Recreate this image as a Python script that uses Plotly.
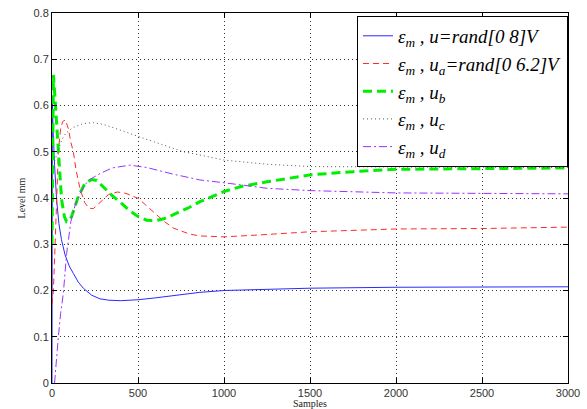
import plotly.graph_objects as go

# Blue: eps_m, u=rand[0 8]V
x_blue = [0, 2, 6, 15, 27, 40, 55, 76, 100, 124, 153, 182, 230, 279, 330, 400, 500, 600, 700, 860, 1000, 1250, 1500, 2000, 2500, 3000]
y_blue = [0.0, 0.62, 0.55, 0.47, 0.396, 0.345, 0.31, 0.277, 0.253, 0.237, 0.218, 0.205, 0.19, 0.182, 0.179, 0.178, 0.18, 0.184, 0.189, 0.196, 0.2, 0.203, 0.205, 0.207, 0.207, 0.208]

# Red: eps_m, u_a=rand[0 6.2]V
x_red = [0, 8, 18, 27, 37, 50, 62, 78, 95, 110, 124, 140, 163, 190, 215, 240, 280, 330, 380, 430, 502, 560, 600, 650, 705, 800, 860, 1000, 1200, 1500, 2000, 2500, 3000]
y_red = [0.17, 0.2, 0.3, 0.4, 0.5, 0.55, 0.565, 0.569, 0.55, 0.52, 0.5, 0.46, 0.42, 0.39, 0.378, 0.377, 0.39, 0.408, 0.413, 0.41, 0.399, 0.38, 0.368, 0.35, 0.335, 0.322, 0.318, 0.316, 0.32, 0.327, 0.333, 0.334, 0.337]

# Green: eps_m, u_b
x_green = [0, 4, 8, 15, 27, 37, 47, 56, 72, 85, 100, 114, 135, 153, 192, 230, 260, 298, 350, 400, 450, 500, 550, 600, 650, 700, 800, 860, 1000, 1100, 1250, 1500, 1750, 2000, 2500, 3000]
y_green = [0.3, 0.6, 0.666, 0.63, 0.569, 0.504, 0.446, 0.396, 0.36, 0.349, 0.352, 0.36, 0.385, 0.403, 0.432, 0.44, 0.438, 0.424, 0.405, 0.39, 0.373, 0.36, 0.352, 0.351, 0.355, 0.363, 0.38, 0.392, 0.414, 0.425, 0.435, 0.45, 0.457, 0.462, 0.464, 0.465]

# Gray: eps_m, u_c
x_gray = [15, 37, 56, 80, 120, 182, 240, 300, 350, 420, 502, 600, 700, 763, 860, 1000, 1250, 1500, 2000, 3000]
y_gray = [0.48, 0.504, 0.525, 0.54, 0.552, 0.561, 0.563, 0.559, 0.553, 0.544, 0.533, 0.52, 0.507, 0.5, 0.493, 0.482, 0.473, 0.468, 0.467, 0.466]

# Purple: eps_m, u_d
x_purple = [15, 25, 37, 50, 66, 85, 110, 135, 163, 190, 220, 280, 350, 453, 550, 700, 860, 1000, 1250, 1500, 2000, 2500, 3000]
y_purple = [0.0, 0.05, 0.1, 0.15, 0.194, 0.28, 0.35, 0.385, 0.41, 0.428, 0.44, 0.453, 0.465, 0.471, 0.466, 0.452, 0.439, 0.433, 0.421, 0.416, 0.411, 0.41, 0.409]

names = [
    "<i>ε<sub>m</sub> , u=rand[0 8]V</i>",
    "<i>ε<sub>m</sub> , u<sub>a</sub>=rand[0 6.2]V</i>",
    "<i>ε<sub>m</sub> , u<sub>b</sub></i>",
    "<i>ε<sub>m</sub> , u<sub>c</sub></i>",
    "<i>ε<sub>m</sub> , u<sub>d</sub></i>",
]

x_ticks = [0, 500, 1000, 1500, 2000, 2500, 3000]
y_ticks = [0, 0.1, 0.2, 0.3, 0.4, 0.5, 0.6, 0.7, 0.8]
y_ticktext = ["0", "0.1", "0.2", "0.3", "0.4", "0.5", "0.6", "0.7", "0.8"]

fig = go.Figure()
fig.add_trace(go.Scatter(x=x_blue, y=y_blue, mode="lines", name=names[0],
                         line=dict(color="#2a2aff", width=1)))
fig.add_trace(go.Scatter(x=x_red, y=y_red, mode="lines", name=names[1],
                         line=dict(color="#ff2a2a", width=1, dash="6px,4px")))
fig.add_trace(go.Scatter(x=x_green, y=y_green, mode="lines", name=names[2],
                         line=dict(color="#00ee00", width=3, dash="9px,5px")))
fig.add_trace(go.Scatter(x=x_gray, y=y_gray, mode="lines", name=names[3],
                         line=dict(color="#555555", width=1, dash="1px,3px")))
fig.add_trace(go.Scatter(x=x_purple, y=y_purple, mode="lines", name=names[4],
                         line=dict(color="#9933ff", width=1, dash="8px,3px,2px,3px")))

axis_common = dict(
    showline=True, linecolor="black", linewidth=1, mirror="allticks",
    ticks="inside", ticklen=5, tickcolor="black",
    showgrid=True, gridcolor="rgba(0,0,0,0.8)", griddash="1px,3px", gridwidth=1,
    zeroline=False,
    tickfont=dict(family="Liberation Sans, Arial", size=11, color="#333333"),
)

fig.update_layout(
    width=587, height=409,
    margin=dict(l=52, r=19, t=13, b=26),
    paper_bgcolor="white", plot_bgcolor="white",
    xaxis=dict(range=[0, 3000], tickvals=x_ticks,
               title=dict(text="Samples", font=dict(family="Liberation Serif, Times New Roman", size=10, color="#222"), standoff=8),
               automargin=False, **axis_common),
    yaxis=dict(range=[0, 0.8], tickvals=y_ticks, ticktext=y_ticktext,
               title=dict(text="Level mm", font=dict(family="Liberation Serif, Times New Roman", size=10, color="#222"), standoff=6),
               automargin=False, **axis_common),
    legend=dict(x=1, xanchor="right", y=0.992, yanchor="top",
                bgcolor="white", bordercolor="black", borderwidth=1,
                font=dict(family="Liberation Serif, Times New Roman", size=19, color="black"),
                tracegroupgap=0),
    showlegend=True,
)

fig.write_html("out.html")
